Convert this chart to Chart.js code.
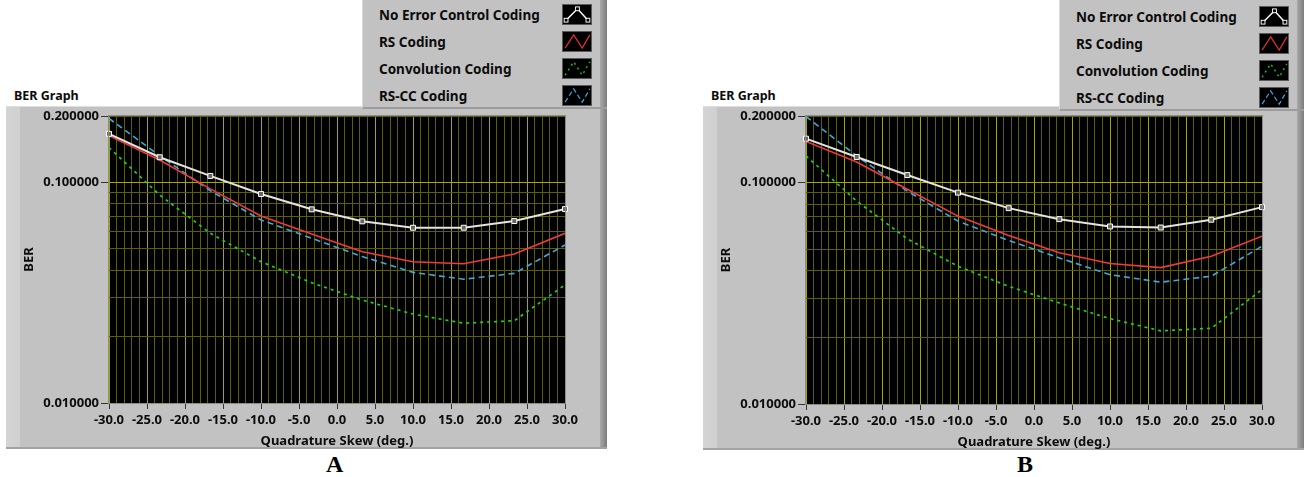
<!DOCTYPE html>
<html>
<head>
<meta charset="utf-8">
<script src="https://cdn.jsdelivr.net/npm/chart.js"></script>
<style>
  body { margin: 0; width: 1304px; height: 477px; background: #fff; position: relative; overflow: hidden; font-family: "Noto Sans", sans-serif; }
  .panel { position: absolute; background: linear-gradient(to right, #d4d4d4 0, #d0d0d0 14px, #c2c2c2 14px, #c2c2c2 calc(100% - 7px), #a9a9a9 calc(100% - 7px), #7c7c7c 100%); border-bottom: 2px solid #a3a3a3; box-sizing: border-box; border-top: 1px solid #dedede; }
  .legend { position: absolute; top: 0; background: linear-gradient(to right, #c2c2c2 0, #c2c2c2 calc(100% - 7px), #a9a9a9 calc(100% - 7px), #7c7c7c 100%); border-left: 1px solid #dcdcdc; border-bottom: 2px solid #9c9c9c; box-sizing: border-box; }
  .row { position: absolute; left: 16px; font-size: 13.5px; font-weight: bold; color: #0c0c0c; line-height: 16px; white-space: nowrap; }
  .sw { position: absolute; width: 30px; height: 21px; background: #000; box-sizing: border-box; border: 1px solid #5a5a5a; }
  .gtitle { position: absolute; font-size: 12.5px; font-weight: bold; color: #0c0c0c; }
  .tag { position: absolute; font-family: "Liberation Serif", serif; font-weight: bold; font-size: 24px; color: #000; }
  canvas { position: absolute; }
</style>
</head>
<body>

<div class="panel" style="left:6px; top:106px; width:601px; height:343px"></div>
<div class="legend" id="legA" style="left:362px; width:245px; height:109px"></div>
<div class="gtitle" style="left:14px; top:87px">BER Graph</div>
<canvas id="chartA" width="601" height="343" style="left:6px; top:106px"></canvas>
<div class="tag" style="left:326px; top:451px">A</div>

<div class="panel" style="left:703px; top:106px; width:601px; height:344px"></div>
<div class="legend" id="legB" style="left:1059px; width:245px; height:111px"></div>
<div class="gtitle" style="left:711px; top:87px">BER Graph</div>
<canvas id="chartB" width="601" height="344" style="left:703px; top:106px"></canvas>
<div class="tag" style="left:1017px; top:451px">B</div>

<script>
const seriesNames = ['No Error Control Coding', 'RS Coding', 'Convolution Coding', 'RS-CC Coding']
const skewDeg = [-30, -23.33, -16.67, -10, -3.33, 3.33, 10, 16.67, 23.33, 30]
const xTickLabels = ['-30.0', '-25.0', '-20.0', '-15.0', '-10.0', '-5.0', '0.0', '5.0', '10.0', '15.0', '20.0', '25.0', '30.0']
const yTickValues = [0.01, 0.02, 0.03, 0.04, 0.05, 0.06, 0.07, 0.08, 0.09, 0.1, 0.2]
const yTickLabels = ['0.010000', '0.100000', '0.200000']

// graph A
const berNoEccA = [0.166, 0.130, 0.107, 0.0886, 0.0755, 0.0666, 0.0623, 0.0623, 0.0668, 0.0757]
const berRsA = [0.163, 0.1264, 0.0935, 0.0704, 0.0584, 0.0485, 0.0437, 0.0428, 0.0474, 0.0588]
const berConvA = [0.144, 0.0877, 0.0588, 0.0437, 0.0351, 0.0293, 0.0253, 0.0230, 0.0236, 0.0343]
const berRsccA = [0.195, 0.132, 0.0917, 0.0676, 0.0558, 0.0461, 0.0391, 0.0364, 0.0387, 0.0520]

// graph B
const berNoEccB = [0.158, 0.1306, 0.1082, 0.0901, 0.0767, 0.0684, 0.0634, 0.0627, 0.0680, 0.0775]
const berRsB = [0.1534, 0.124, 0.0933, 0.0706, 0.0577, 0.0482, 0.0431, 0.0413, 0.0465, 0.0573]
const berConvB = [0.132, 0.0826, 0.0557, 0.0419, 0.0340, 0.0286, 0.0243, 0.0214, 0.0220, 0.0329]
const berRsccB = [0.199, 0.132, 0.0916, 0.067, 0.0548, 0.0457, 0.0384, 0.0355, 0.0378, 0.0516]

const majorGrid = '#a6a600'
const minorGrid = '#5e5e00'
const fontFam = '"Noto Sans", sans-serif'

function pts(ys) {
    return ys.map((y, i) => ({ x: skewDeg[i], y: y }))
}

function yLabel(v) {
    let lbl = ''
    yTickLabels.forEach(t => { if (Math.abs(v - parseFloat(t)) / v < 1e-6) lbl = t })
    return lbl
}

function xLabel(v) {
    let lbl = ''
    xTickLabels.forEach(t => { if (Math.abs(v - parseFloat(t)) < 1e-6) lbl = t })
    return lbl
}

const plotFrame = {
    id: 'plotFrame',
    beforeDraw(chart) {
        let a = chart.chartArea
        let ctx = chart.ctx
        ctx.save()
        ctx.fillStyle = '#000'
        ctx.fillRect(a.left, a.top, a.right - a.left, a.bottom - a.top)
        ctx.restore()
    },
    afterDraw(chart) {
        let a = chart.chartArea
        let ctx = chart.ctx
        ctx.save()
        ctx.strokeStyle = '#8c8c8c'
        ctx.lineWidth = 1
        ctx.strokeRect(a.left - 0.5, a.top - 0.5, a.right - a.left + 1, a.bottom - a.top + 1)
        ctx.restore()
    }
}

function makeChart(id, noEcc, rs, conv, rscc) {
    let ctx = document.getElementById(id).getContext('2d')
    let tickFont = { family: fontFam, size: 13, weight: 'bold' }
    return new Chart(ctx, {
        type: 'line',
        data: {
            datasets: [
                { label: seriesNames[0], data: pts(noEcc), borderColor: '#e4e4e4', borderWidth: 2, pointStyle: 'rect', pointRadius: 3.5, pointBorderColor: '#ffffff', pointBackgroundColor: '#666666', pointBorderWidth: 1, clip: false, order: 0 },
                { label: seriesNames[1], data: pts(rs), borderColor: '#f03a3a', borderWidth: 1.6, pointRadius: 0, order: 1 },
                { label: seriesNames[2], data: pts(conv), borderColor: '#16dd16', borderWidth: 1.6, borderDash: [3, 4], pointRadius: 0, order: 2 },
                { label: seriesNames[3], data: pts(rscc), borderColor: '#3ba8e0', borderWidth: 1.6, borderDash: [6, 4], pointRadius: 0, order: 3 }
            ]
        },
        options: {
            responsive: false,
            animation: false,
            layout: { padding: { top: 10, right: 42, bottom: 0, left: 0 } },
            plugins: { legend: { display: false }, tooltip: { enabled: false } },
            elements: { line: { tension: 0 } },
            scales: {
                x: {
                    type: 'linear', min: -30, max: 30,
                    afterFit(s) { s.height = 46 },
                    ticks: { stepSize: 1, autoSkip: false, maxRotation: 0, padding: 3, color: '#0c0c0c', font: tickFont, callback: v => xLabel(v) },
                    grid: {
                        color: c => (c.tick && xLabel(c.tick.value)) ? majorGrid : minorGrid,
                        tickLength: 6,
                        tickColor: c => (c.tick && xLabel(c.tick.value)) ? '#333333' : 'rgba(0,0,0,0)'
                    },
                    border: { display: false },
                    title: { display: true, text: 'Quadrature Skew (deg.)', color: '#0c0c0c', font: tickFont, padding: { top: 0, bottom: 0 } }
                },
                y: {
                    type: 'logarithmic', min: 0.01, max: 0.2,
                    afterFit(s) { s.width = 103 },
                    afterBuildTicks(s) { s.ticks = yTickValues.map(v => ({ value: v })) },
                    ticks: { autoSkip: false, padding: 2, color: '#0c0c0c', font: tickFont, callback: v => yLabel(v) },
                    grid: {
                        color: c => (c.tick && Math.abs(c.tick.value - 0.1) < 1e-9) ? majorGrid : minorGrid,
                        tickLength: 8,
                        tickColor: c => (c.tick && yLabel(c.tick.value)) ? '#333333' : 'rgba(0,0,0,0)'
                    },
                    border: { display: false },
                    title: { display: true, text: 'BER', color: '#0c0c0c', font: tickFont, padding: { top: 15, bottom: 0 } }
                }
            }
        },
        plugins: [plotFrame]
    })
}

const icons = [
    '<polyline points="3,16 15,4 26,16" fill="none" stroke="#fff" stroke-width="1.5"/><rect x="1" y="14" width="4" height="4" fill="#000" stroke="#fff"/><rect x="13" y="2" width="4" height="4" fill="#000" stroke="#fff"/><rect x="24" y="14" width="4" height="4" fill="#000" stroke="#fff"/>',
    '<polyline points="2,17 11,3 20,17 28,3" fill="none" stroke="#e03030" stroke-width="1.3"/>',
    '<polyline points="2,17 11,3 20,17 28,3" fill="none" stroke="#16cc16" stroke-width="1.5" stroke-dasharray="2,4"/>',
    '<polyline points="2,17 11,3 20,17 28,3" fill="none" stroke="#3ba8e0" stroke-width="1.3" stroke-dasharray="5,3"/>'
]

function makeLegend(id, firstRow) {
    let box = document.getElementById(id)
    seriesNames.forEach((name, k) => {
        let cy = firstRow + k * 27
        let t = document.createElement('div')
        t.className = 'row'
        t.style.top = (cy - 8) + 'px'
        t.textContent = name
        box.appendChild(t)
        let s = document.createElement('div')
        s.className = 'sw'
        s.style.left = '199px'
        s.style.top = (cy - 11) + 'px'
        s.innerHTML = '<svg width="28" height="19" viewBox="0 0 29 20">' + icons[k] + '</svg>'
        box.appendChild(s)
    })
}

makeLegend('legA', 15)
makeLegend('legB', 17)
makeChart('chartA', berNoEccA, berRsA, berConvA, berRsccA)
makeChart('chartB', berNoEccB, berRsB, berConvB, berRsccB)
</script>
</body>
</html>
